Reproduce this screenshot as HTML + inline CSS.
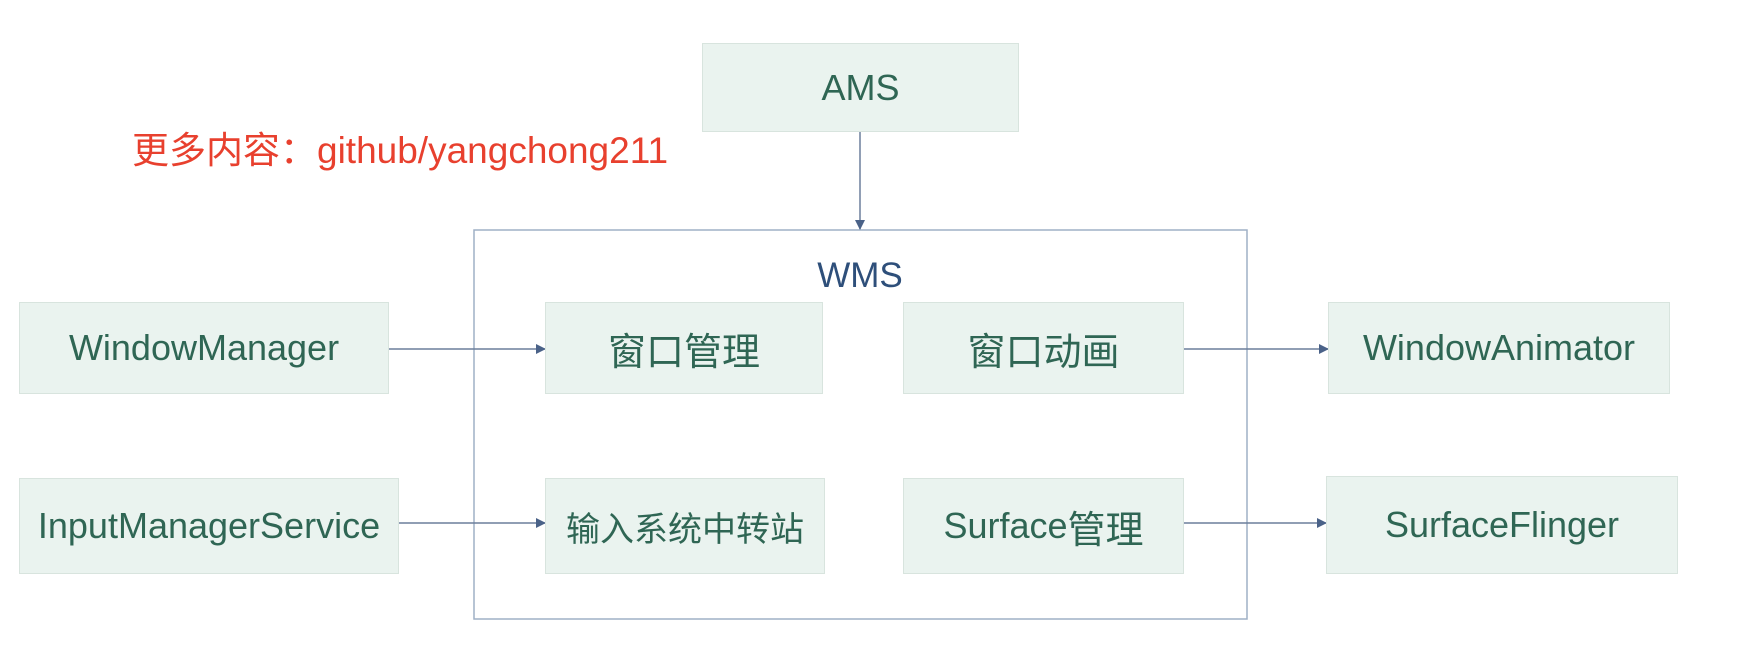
<!DOCTYPE html>
<html><head><meta charset="utf-8"><style>
html,body{margin:0;padding:0;background:#fff;}
body{width:1756px;height:652px;position:relative;overflow:hidden;font-family:"Liberation Sans","Noto Sans CJK SC",sans-serif;}
.b{position:absolute;background:#eaf3ef;border:1.5px solid #d8e4de;box-sizing:border-box;display:flex;align-items:center;justify-content:center;color:#2f6654;font-size:36px;white-space:nowrap;}
.c{font-size:38px;}
.t{position:absolute;}
</style></head><body>
<svg width="1756" height="652" style="position:absolute;left:0;top:0">
<defs><marker id="a" markerWidth="10" markerHeight="10" refX="9" refY="5" orient="auto" markerUnits="userSpaceOnUse"><path d="M0,0 L10,5 L0,10 Z" fill="#4a6288"/></marker></defs>
<rect x="474" y="230" width="773" height="389" fill="none" stroke="#9fb0c6" stroke-width="1.5"/>
<line x1="860" y1="132" x2="860" y2="229" stroke="#6c7f9c" stroke-width="1.5" marker-end="url(#a)"/>
<line x1="389" y1="349" x2="545" y2="349" stroke="#6c7f9c" stroke-width="1.5" marker-end="url(#a)"/>
<line x1="1184" y1="349" x2="1328" y2="349" stroke="#6c7f9c" stroke-width="1.5" marker-end="url(#a)"/>
<line x1="399" y1="523" x2="545" y2="523" stroke="#6c7f9c" stroke-width="1.5" marker-end="url(#a)"/>
<line x1="1184" y1="523" x2="1326" y2="523" stroke="#6c7f9c" stroke-width="1.5" marker-end="url(#a)"/>
</svg>
<div class="b" style="left:702px;top:43px;width:317px;height:89px;">AMS</div>
<div class="t" style="left:132px;top:120px;font-size:37px;color:#e8402e;white-space:nowrap;">更多内容：github/yangchong211</div>
<div class="t" style="left:800px;top:256px;width:120px;text-align:center;font-size:35px;color:#2e4f7a;">WMS</div>
<div class="b" style="left:19px;top:302px;width:370px;height:92px;">WindowManager</div>
<div class="b c" style="left:545px;top:302px;width:278px;height:92px;">窗口管理</div>
<div class="b c" style="left:903px;top:302px;width:281px;height:92px;">窗口动画</div>
<div class="b" style="left:1328px;top:302px;width:342px;height:92px;">WindowAnimator</div>
<div class="b" style="left:19px;top:478px;width:380px;height:96px;">InputManagerService</div>
<div class="b" style="left:545px;top:478px;width:280px;height:96px;font-size:34px;">输入系统中转站</div>
<div class="b" style="left:903px;top:478px;width:281px;height:96px;">Surface<span class="c">管理</span></div>
<div class="b" style="left:1326px;top:476px;width:352px;height:98px;">SurfaceFlinger</div>
</body></html>
